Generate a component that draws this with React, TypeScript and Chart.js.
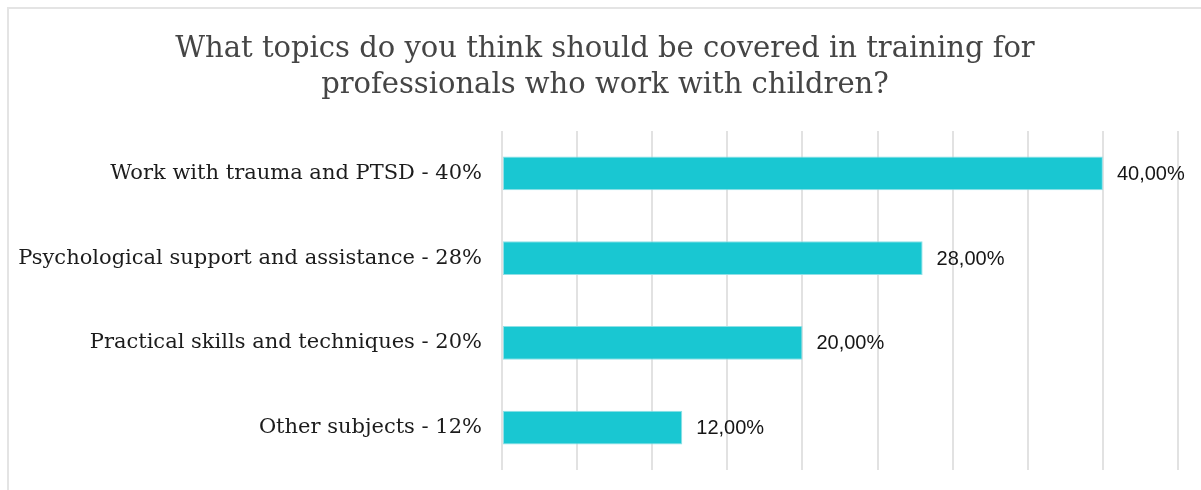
import React, { useEffect, useRef } from "react";
import { Chart, registerables } from "chart.js";

Chart.register(...registerables);

const categories = [
  "Work with trauma and PTSD - 40%",
  "Psychological support and assistance - 28%",
  "Practical skills and techniques - 20%",
  "Other subjects - 12%",
];
const values = [40, 28, 20, 12];
const valueLabels = ["40,00%", "28,00%", "20,00%", "12,00%"];
const titleLines = [
  "What topics do you think should be covered in training for",
  "professionals who work with children?",
];

const BAR_COLOR = "#19C7D2";

const valueLabelPlugin = {
  id: "valueLabels",
  afterDatasetsDraw(chart: any) {
    const ctx = chart.ctx;
    const meta = chart.getDatasetMeta(0);
    ctx.save();
    ctx.font = "20px 'Liberation Sans', Arial, sans-serif";
    ctx.fillStyle = "#151515";
    ctx.textBaseline = "middle";
    ctx.textAlign = "left";
    meta.data.forEach((bar: any, i: number) => {
      ctx.fillText(valueLabels[i], bar.x + 14, bar.y + 1);
    });
    ctx.restore();
  },
};

const centeredTitlePlugin = {
  id: "centeredTitle",
  afterDraw(chart: any) {
    const ctx = chart.ctx;
    ctx.save();
    ctx.font = "29px 'DejaVu Serif', serif";
    ctx.fillStyle = "#454545";
    ctx.textAlign = "center";
    ctx.textBaseline = "alphabetic";
    const cx = chart.width / 2;
    titleLines.forEach((line, i) => {
      ctx.fillText(line, cx, 47.5 + i * 36.5);
    });
    ctx.restore();
  },
};

export default function App() {
  const canvasRef = useRef<HTMLCanvasElement | null>(null);

  useEffect(() => {
    if (!canvasRef.current) return;
    const chart = new Chart(canvasRef.current, {
      type: "bar",
      data: {
        labels: categories,
        datasets: [
          {
            data: values,
            backgroundColor: BAR_COLOR,
            borderColor: "#8FE0E6",
            borderWidth: 1,
            borderSkipped: false,
            barPercentage: 0.8,
            categoryPercentage: 0.5,
          },
        ],
      },
      options: {
        indexAxis: "y",
        animation: false,
        responsive: true,
        maintainAspectRatio: false,
        layout: { padding: { left: 0, right: 23, top: 122, bottom: 20 } },
        plugins: {
          legend: { display: false },
          tooltip: { enabled: false },
          title: { display: false },
        },
        scales: {
          x: {
            min: 0,
            max: 45,
            ticks: { display: false, stepSize: 5 },
            grid: { color: "#e2e2e2", lineWidth: 2, drawTicks: false },
            border: { display: false },
            afterFit(scale: any) {
              scale.height = 0;
              scale.paddingLeft = 0;
              scale.paddingRight = 0;
            },
          },
          y: {
            grid: { display: false, drawTicks: false },
            border: { display: false },
            ticks: {
              color: "#1c1c1c",
              padding: 20,
              font: { family: "'DejaVu Serif', serif", size: 21 },
            },
            afterFit(scale: any) {
              scale.width = 493;
              scale.paddingTop = 0;
              scale.paddingBottom = 0;
            },
          },
        },
      },
      plugins: [valueLabelPlugin, centeredTitlePlugin],
    });
    return () => chart.destroy();
  }, []);

  return (
    <div
      style={{
        position: "fixed",
        left: 7,
        top: 7,
        right: 0,
        bottom: 0,
        boxSizing: "border-box",
        borderTop: "2px solid #e4e4e4",
        borderLeft: "2px solid #e4e4e4",
        background: "#fff",
      }}
    >
      <div style={{ position: "relative", width: "100%", height: "100%" }}>
        <canvas ref={canvasRef} />
      </div>
    </div>
  );
}
